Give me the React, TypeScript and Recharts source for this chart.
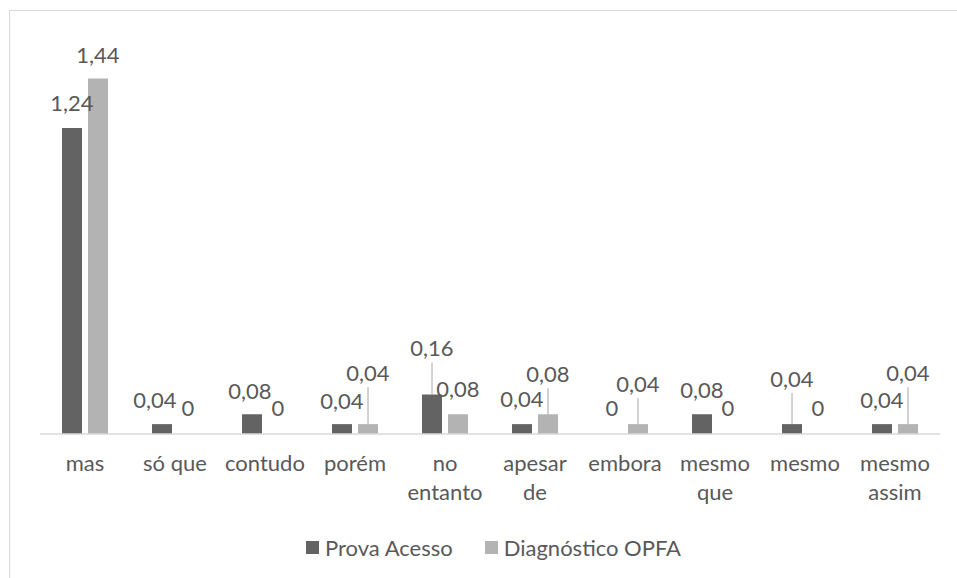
import React from "react";
import { BarChart, Bar, XAxis, YAxis, Legend, LabelList } from "recharts";

const categories = ["mas", "só que", "contudo", "porém", "no entanto", "apesar de", "embora", "mesmo que", "mesmo", "mesmo assim"];
const categoryLines = [["mas"], ["só que"], ["contudo"], ["porém"], ["no", "entanto"], ["apesar", "de"], ["embora"], ["mesmo", "que"], ["mesmo"], ["mesmo", "assim"]];
const provaAcesso = [1.24, 0.04, 0.08, 0.04, 0.16, 0.04, 0, 0.08, 0.04, 0.04];
const diagnosticoOPFA = [1.44, 0, 0, 0.04, 0.08, 0.08, 0.04, 0, 0, 0.04];

// label placement (style): vertical offset of label centre above bar top, horizontal nudge, leader line flag
const darkLabelDy = [-25, -25, -24, -24, -47, -26, -26, -25, -46, -25];
const darkLabelDx = [0, -7, -2, 0, 0, 0, 0, 0, 0, 0];
const darkLeader = [false, false, false, false, true, false, false, false, true, false];
const lightLabelDy = [-24.5, -26, -26, -52, -26, -41, -41, -26, -26, -52];
const lightLabelDx = [0, 0, 0, 0, 0, 0, 0, 0, 0, 0];
const lightLeader = [false, false, false, true, false, true, true, false, false, true];

const data = categories.map((c, i) => ({
  name: c,
  a: provaAcesso[i],
  b: diagnosticoOPFA[i],
}));

const FONT = "Lato, 'Open Sans', sans-serif";
const TEXT = "#595959";
const DARK = "#636363";
const LIGHT = "#b3b3b3";
const FS = 22;

const fmt = (v: number) => String(v).replace(".", ",");

const makeLabel = (dys: number[], dxs: number[], leaders: boolean[]) => (props: any) => {
  const { x, y, width, height, value, index } = props;
  const cx = Number(x) + Number(width) / 2;
  const h = Number(height);
  const top = h < 0 ? Number(y) + h : Number(y);
  const mid = top + dys[index];
  const tx = cx + dxs[index];
  return (
    <g>
      {leaders[index] && (
        <line x1={cx} x2={cx} y1={mid + 15} y2={top} stroke="#a6a6a6" strokeWidth={1} />
      )}
      <text
        x={tx}
        y={mid}
        textAnchor="middle"
        dominantBaseline="central"
        fontFamily={FONT}
        fontSize={FS}
        fill={TEXT}
      >
        {fmt(value)}
      </text>
    </g>
  );
};

const Tick = (props: any) => {
  const { x, payload } = props;
  const lines = categoryLines[payload.index] || [payload.value];
  return (
    <g>
      {lines.map((l: string, i: number) => (
        <text
          key={i}
          x={x}
          y={471 + i * 29}
          textAnchor="middle"
          fontFamily={FONT}
          fontSize={FS}
          fill={TEXT}
        >
          {l}
        </text>
      ))}
    </g>
  );
};

const LegendContent = () => (
  <div style={{ display: "flex", justifyContent: "center", alignItems: "center", fontFamily: FONT, fontSize: FS, color: TEXT }}>
    <span style={{ display: "inline-block", width: 13, height: 13, background: DARK, marginRight: 6 }} />
    <span style={{ marginRight: 32 }}>Prova Acesso</span>
    <span style={{ display: "inline-block", width: 13, height: 13, background: LIGHT, marginRight: 6 }} />
    <span>Diagnóstico OPFA</span>
  </div>
);

export default function App() {
  return (
    <div style={{ position: "fixed", left: 0, top: 0, width: 957, height: 578, overflow: "hidden", background: "#fff" }}>
      <div style={{ position: "absolute", left: 9, top: 10, width: 1000, height: 1000, border: "1px solid #d9d9d9" }} />
      <div style={{ position: "absolute", left: 0, top: 0 }}>
        <BarChart
          width={957}
          height={578}
          data={data}
          margin={{ top: 39, right: 17, left: 40, bottom: 0 }}
          barSize={20}
          barGap={6}
        >
          <YAxis hide domain={[0, 1.6]} />
          <XAxis
            dataKey="name"
            height={144}
            axisLine={{ stroke: "#d9d9d9", strokeWidth: 1.5 }}
            tickLine={false}
            interval={0}
            tick={<Tick />}
          />
          <Legend
            layout="horizontal"
            verticalAlign="middle"
            align="center"
            content={<LegendContent />}
            wrapperStyle={{ top: 534, left: 15, width: 957 }}
          />
          <Bar dataKey="a" name="Prova Acesso" fill={DARK} minPointSize={0.01} isAnimationActive={false}>
            <LabelList dataKey="a" content={makeLabel(darkLabelDy, darkLabelDx, darkLeader)} />
          </Bar>
          <Bar dataKey="b" name="Diagnóstico OPFA" fill={LIGHT} minPointSize={0.01} isAnimationActive={false}>
            <LabelList dataKey="b" content={makeLabel(lightLabelDy, lightLabelDx, lightLeader)} />
          </Bar>
        </BarChart>
      </div>
    </div>
  );
}
